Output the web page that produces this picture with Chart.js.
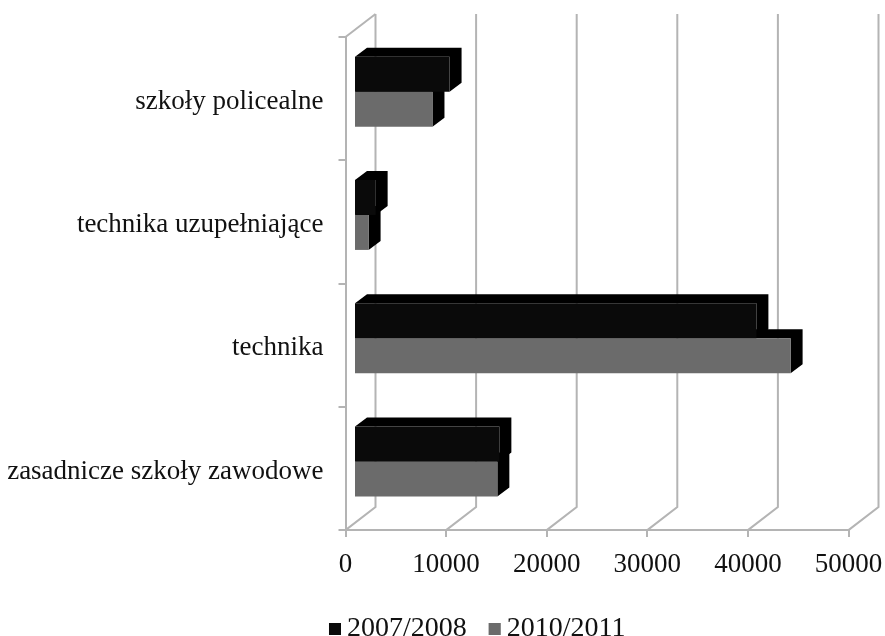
<!DOCTYPE html>
<html><head><meta charset="utf-8">
<style>html,body{margin:0;padding:0;background:#fff}#w{width:885px;height:636px}</style>
<script src="https://cdn.jsdelivr.net/npm/chart.js@4/dist/chart.umd.min.js"></script>
</head><body><div id="w"><canvas id="c" width="885" height="636"></canvas></div>
<script>
const categories = ["szkoły policealne","technika uzupełniające","technika","zasadnicze szkoły zawodowe"];
const seriesNames = ["2007/2008","2010/2011"];
const values0708 = [9500,2150,40000,14450];
const values1011 = [7800,1450,43400,14250];
const xTicks = [0,10000,20000,30000,40000,50000];

const GRID='#b4b4b4', FONT='"Liberation Serif"', LEGEND_Y=629, LEGEND_SHIFT=53;
const WALL={dx:30,dy:-23}, FRONT={dx:8.5,dy:-7}, BAR={dx:12,dy:-9};

const threeD={id:'threeD',
 afterLayout(ch){
  const l=ch.legend, d=LEGEND_Y-(l.top+l.options.labels.padding+14);
  l.top+=d;l.bottom+=d;l.left+=LEGEND_SHIFT;l.right+=LEGEND_SHIFT;
 },
 beforeDatasetsDraw(ch){
  const c=ch.ctx,x=ch.scales.x,a=ch.chartArea;
  c.save();c.strokeStyle=GRID;c.lineWidth=2;
  xTicks.forEach(v=>{const p=x.getPixelForValue(v);
    c.beginPath();c.moveTo(p,a.bottom);c.lineTo(p+WALL.dx,a.bottom+WALL.dy);
    c.lineTo(p+WALL.dx,a.top+WALL.dy);c.stroke();});
  c.beginPath();c.moveTo(a.left,a.top);c.lineTo(a.left+WALL.dx,a.top+WALL.dy);c.stroke();
  c.restore();
  c.save();c.translate(FRONT.dx,FRONT.dy);c.fillStyle='#000';
  [0,1].forEach(i=>ch.getDatasetMeta(i).data.forEach(b=>{
    const l=b.base,r=b.x,t=b.y-b.height/2,bt=b.y+b.height/2;
    c.beginPath();c.moveTo(l,t);c.lineTo(l+BAR.dx,t+BAR.dy);c.lineTo(r+BAR.dx,t+BAR.dy);
    c.lineTo(r+BAR.dx,bt+BAR.dy);c.lineTo(r,bt);c.lineTo(r,t);c.closePath();c.fill();
  }));
  c.restore();
  c.save();c.translate(FRONT.dx,FRONT.dy);
 },
 afterDatasetsDraw(ch){ch.ctx.restore();},
 afterDraw(ch){
  const c=ch.ctx,l=ch.legend;
  c.save();
  l.legendItems.forEach((it,i)=>{const h=l.legendHitBoxes[i];
    c.fillStyle=it.fillStyle;c.fillRect(h.left,h.top+(h.height-12)/2,12,12);});
  c.restore();
 }
};

new Chart(document.getElementById('c'),{
 type:'bar',
 data:{labels:categories,datasets:[
  {label:seriesNames[0],data:values0708,backgroundColor:'#0a0a0a'},
  {label:seriesNames[1],data:values1011,backgroundColor:'#6b6b6b'}]},
 plugins:[threeD],
 options:{
  indexAxis:'y',responsive:false,animation:false,
  categoryPercentage:0.568,barPercentage:1,
  layout:{padding:{left:0,right:36.5,top:37,bottom:0}},
  scales:{
   x:{min:0,max:50000,
      afterBuildTicks(s){s.ticks=xTicks.map(v=>({value:v}));},
      afterFit(s){s.height-=17.5;s.paddingRight=0;s.paddingLeft=0;},
      grid:{drawOnChartArea:false,tickLength:7,tickColor:GRID,lineWidth:2},
      border:{color:GRID,width:2},
      ticks:{color:'#111',font:{family:FONT,size:27},padding:12,maxRotation:0,autoSkip:false,callback:v=>String(v)}},
   y:{afterFit(s){s.width=345.5;},
      grid:{drawOnChartArea:false,tickLength:7,tickColor:GRID,lineWidth:2},
      border:{color:GRID,width:2},
      ticks:{color:'#111',font:{family:FONT,size:27},padding:15,labelOffset:3,autoSkip:false}}
  },
  plugins:{tooltip:{enabled:false},
   legend:{position:'bottom',align:'center',
    labels:{color:'#111',font:{family:FONT,size:28},boxWidth:4,boxHeight:12,padding:22}}}
 }
});
</script></body></html>
